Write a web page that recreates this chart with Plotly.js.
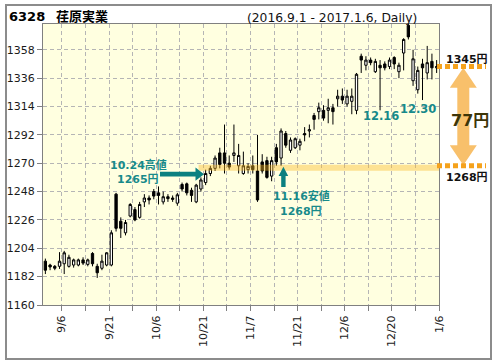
<!DOCTYPE html>
<html><head><meta charset="utf-8">
<script src="https://cdn.plot.ly/plotly-3.0.1.min.js"></script>
<style>html,body{margin:0;padding:0;background:#fff}#c{width:496px;height:364px}</style>
</head><body><div id="c"></div>
<script>
const dates = ['9/1','9/2','9/5','9/6','9/7','9/8','9/9','9/12','9/13','9/14','9/15','9/16','9/20','9/21','9/23','9/26','9/27','9/28','9/29','9/30',
'10/3','10/4','10/5','10/6','10/7','10/11','10/12','10/13','10/14','10/17','10/18','10/19','10/20','10/21','10/24','10/25','10/26','10/27','10/28','10/31',
'11/1','11/2','11/4','11/7','11/8','11/9','11/10','11/11','11/14','11/15','11/16','11/17','11/18','11/21','11/22','11/24','11/25','11/28','11/29','11/30',
'12/1','12/2','12/5','12/6','12/7','12/8','12/9','12/12','12/13','12/14','12/15','12/16','12/19','12/20','12/21','12/22','12/26','12/27','12/28','12/29','12/30',
'1/4','1/5','1/6'];
const open  = [1194,1191,1190,1190,1192,1190,1191,1191,1195,1191.5,1200,1190,1188.5,1191,1191,1246,1225,1216,1229,1234,
1228,1240,1243,1248,1247,1240,1244,1243,1239,1253.5,1254,1249,1240,1250,1255,1262,1266,1278,1278,1270,
1276,1268,1262,1265,1268,1264,1271,1272,1260,1282,1274,1293,1280,1282,1284,1293,1295,1307,1310,1311,
1311,1313,1320,1322,1316,1318,1311,1353,1346,1350,1341,1346,1347,1345,1352,1341,1355.5,1377,1334,1327,1347,
1340,1349,1344];
const high  = [1196,1192,1191,1201,1202,1199,1196,1196,1197,1196,1201,1192,1199,1201,1218,1247,1228,1226,1239,1236,
1240,1246,1245,1250,1252,1248,1246,1245,1247,1255,1255,1251,1254,1259,1265,1268,1276,1282,1300,1276,
1300,1285,1279,1270,1276,1292,1277,1275,1275,1285,1297,1295,1290,1290,1289,1298,1300,1309,1317,1315,
1320,1316,1327,1328,1327,1328,1340,1355,1353,1352,1351,1350,1349,1352,1353,1348,1367,1380,1358,1345,1351,
1361,1355,1350];
const low   = [1184,1187,1187,1188,1184,1189,1189,1190,1191,1190,1190,1181,1187,1190,1190,1217,1212,1214,1228,1225,
1227,1236,1238,1242,1238,1238,1240,1240,1237,1248,1245,1240,1239,1248,1253,1260,1264,1266,1262,1265,
1271,1262,1261,1262,1262,1240,1262,1258,1256,1268,1268,1282,1278,1281,1280,1287,1290,1296,1304,1303,
1301,1300,1314,1316,1314,1308,1308,1340,1342,1346,1340,1311,1342,1343,1343,1336,1342,1366,1330,1324,1319,
1335,1335,1340];
const close = [1187,1189.5,1188.5,1194,1200.5,1197,1195,1195,1192.5,1195,1192,1185,1194,1200.5,1216,1219.5,1219.5,1224,1238,1226,
1238,1243,1241.5,1244.5,1245,1244,1242.5,1242,1245.5,1250,1247,1245,1253,1257,1262,1266,1274,1269,1270,1267,
1278,1276,1268,1267.5,1265,1241.5,1264,1259,1272,1271,1295,1284,1288,1289,1287,1292,1296,1304,1313,1305,
1313,1310,1322,1319,1322,1322,1339,1350,1350,1348,1349,1344,1344,1350,1347,1346,1366,1368,1351,1342,1344,
1348,1344,1345];
const tickDates = ['9/6','9/21','10/6','10/21','11/7','11/21','12/6','12/20','1/6'];
const yTicks = [1160,1182,1204,1226,1248,1270,1292,1314,1336,1358];
const highDate = '10/24', highValue = 1265;
const lowDate = '11/16', lowValue = 1268;
const lastValue = 1345;
const diffValue = lastValue - lowValue;

const idx = dates.map((d,i)=>i);
const tickvals = [], ticktext = [];
tickDates.forEach((d,k)=>{
  const p = dates.indexOf(d) + 0.5;
  if (k>0) { tickvals.push(p-5); ticktext.push(''); }
  tickvals.push(p); ticktext.push(d);
});

const M = {l:43, r:57, t:24, b:59};
const W = 496 - M.l - M.r, H = 364 - M.t - M.b;
const fx = px => (px - M.l)/W;
const fy = py => (M.t + H - py)/H;
const FONT = '"DejaVu Sans", "Noto Sans CJK JP", sans-serif';
const TEAL = '#178a8a', TEAL2 = '#0b8080', ORANGE = '#F5A21C';

function poly(pts){ return 'M' + pts.map(p=>fx(p[0]).toFixed(5)+','+fy(p[1]).toFixed(5)).join('L') + 'Z'; }

const trace = {
  type:'candlestick', x: idx, open, high, low, close,
  increasing:{line:{color:'#000',width:1}, fillcolor:'#ffffff'},
  decreasing:{line:{color:'#000',width:1}, fillcolor:'#000000'},
  whiskerwidth:0, hoverinfo:'none', showlegend:false
};

const hiIdx = dates.indexOf(highDate);
const shapes = [
  {type:'rect', xref:'x', yref:'y', x0: hiIdx-1.5, x1: dates.length-0.5, y0: highValue-0.8, y1: lowValue+0.8,
   fillcolor:'rgba(250,185,40,0.42)', line:{width:0}, layer:'above'},
  {type:'line', xref:'paper', yref:'y', x0: fx(437), x1: fx(486), y0: lastValue, y1: lastValue,
   line:{color:ORANGE, width:5, dash:'5px,3px'}},
  {type:'line', xref:'paper', yref:'y', x0: fx(437), x1: fx(486), y0: lowValue, y1: lowValue,
   line:{color:ORANGE, width:5, dash:'5px,3px'}},
  {type:'path', xref:'paper', yref:'y', layer:'above',
   path: (()=>{ const c=fx(463.3), hw=13.5/W, sw=6/W, top=lastValue-1, bot=lowValue+0.5, hl=15.5;
     const pts=[[c,top],[c+hw,top-hl],[c+sw,top-hl],[c+sw,bot+hl],[c+hw,bot+hl],[c,bot],[c-hw,bot+hl],[c-sw,bot+hl],[c-sw,top-hl],[c-hw,top-hl]];
     return 'M'+pts.map(p=>p[0].toFixed(5)+','+p[1].toFixed(2)).join('L')+'Z'; })(),
   fillcolor:'rgba(244,160,30,0.66)', line:{width:0}},
  {type:'path', xref:'paper', yref:'paper', path: poly([[160,171.8],[195.5,171.8],[195.5,167.5],[204,174.2],[195.5,180.8],[195.5,176.6],[160,176.6]]),
   fillcolor:TEAL2, line:{width:0}},
  {type:'path', xref:'paper', yref:'paper', path: poly([[281.2,187],[281.2,176],[278.6,176],[283.4,166.8],[288.2,176],[285.6,176],[285.6,187]]),
   fillcolor:TEAL2, line:{width:0}},
  {type:'rect', xref:'paper', yref:'paper', x0: fx(6), x1: fx(491), y0: fy(359), y1: fy(5),
   line:{color:'#8c8c8c', width:2}, fillcolor:'rgba(0,0,0,0)'}
];

function ann(text, px, py, size, color, bold, anchor){
  return {text: bold?'<b>'+text+'</b>':text, xref:'paper', yref:'paper', x: fx(px), y: fy(py),
    xanchor: anchor||'center', yanchor:'middle', showarrow:false,
    font:{family:FONT, size:size, color:color}};
}
const annotations = [
  ann('6328', 7, 16, 13, '#000', true, 'left'),
  ann('荏原実業', 54, 16, 13, '#000', true, 'left'),
  ann('(2016.9.1 - 2017.1.6, Daily)', 245, 18.5, 12.3, '#111', false, 'left'),
  ann(highDate.replace('/','.')+'高値', 138, 164.5, 11, TEAL, true),
  ann(highValue+'円', 138, 179.5, 11, TEAL, true),
  ann(lowDate.replace('/','.')+'安値', 301, 196, 11, TEAL, true),
  ann(lowValue+'円', 301, 211, 11, TEAL, true),
  ann('12.16', 381, 116, 11.5, TEAL, true),
  ann('12.30', 418, 108.5, 11.5, TEAL, true),
  ann(lastValue+'円', 467, 59, 11, '#111', true),
  ann(lowValue+'円', 467, 177, 11, '#111', true),
  ann(diffValue+'円', 469.5, 120, 16, '#3d3508', true)
];

const layout = {
  width:496, height:364, margin:M, paper_bgcolor:'#ffffff', plot_bgcolor:'#FFFFE0',
  showlegend:false, dragmode:false,
  xaxis:{range:[-0.5, dates.length-0.5], tickmode:'array', tickvals, ticktext, tickangle:-90,
    ticks:'outside', ticklen:5, tickcolor:'#808080', showgrid:true, gridcolor:'#b5b5b5', griddash:'4px,3px', gridwidth:1,
    showline:true, linecolor:'#808080', linewidth:1, mirror:true, zeroline:false,
    rangeslider:{visible:false}, tickfont:{family:FONT, size:11, color:'#1a1a1a'}, fixedrange:true},
  yaxis:{range:[1160, 1378], tickmode:'array', tickvals:yTicks, ticktext:yTicks.map(String),
    ticks:'outside', ticklen:5, tickcolor:'#808080', showgrid:true, gridcolor:'#b5b5b5', griddash:'4px,3px', gridwidth:1,
    showline:true, linecolor:'#808080', linewidth:1, mirror:true, zeroline:false,
    tickfont:{family:FONT, size:11, color:'#1a1a1a'}, fixedrange:true},
  shapes, annotations
};
Plotly.newPlot('c', [trace], layout, {staticPlot:true, displayModeBar:false});
</script></body></html>
